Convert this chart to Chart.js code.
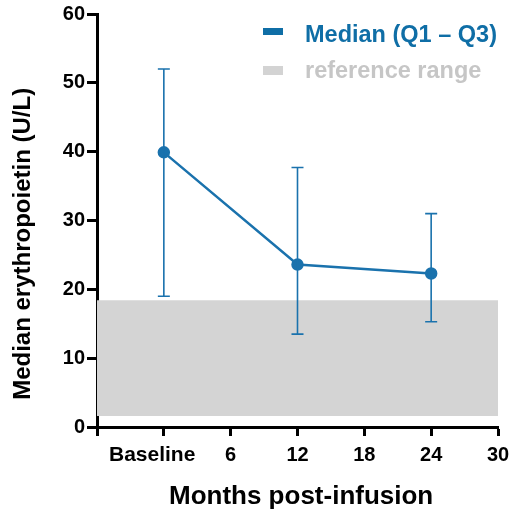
<!DOCTYPE html>
<html>
<head>
<meta charset="utf-8">
<script src="https://cdn.jsdelivr.net/npm/chart.js@4/dist/chart.umd.min.js"></script>
<style>
  body { margin: 0; background: #fff; }
  #wrap { position: relative; width: 511px; height: 513px; }
  .leg { position: absolute; left: 305px; font: bold 23.5px "Liberation Sans", Arial, sans-serif; line-height: 24px; white-space: nowrap; }
  .box { position: absolute; left: 263px; width: 20px; }
</style>
</head>
<body>
<div id="wrap">
  <canvas id="chart" width="511" height="513"></canvas>
  <div class="box" style="top:28px;height:7px;background:#0f6ea6"></div>
  <div class="leg" style="top:22px;color:#0f6ea6">Median (Q1 – Q3)</div>
  <div class="box" style="top:66px;height:9px;background:#d3d3d3"></div>
  <div class="leg" style="top:58px;color:#c6c6c6">reference range</div>
</div>
<script>
const months = [0, 12, 24];
const medians = [39.9, 23.6, 22.3];
const q1 = [19.0, 13.5, 15.3];
const q3 = [52.0, 37.7, 31.0];
const refRange = [1.6, 18.4];
const xTicks = [-6, 0, 6, 12, 18, 24, 30];
const yTicks = [0, 10, 20, 30, 40, 50, 60];

const blue = "#1a72ad";
const font = "'Liberation Sans', Arial, sans-serif";

// whiskers for Q1 - Q3
const errorBars = {
  id: "errorBars",
  afterDatasetsDraw(chart) {
    const { ctx, scales: { x, y } } = chart;
    ctx.save();
    ctx.strokeStyle = blue;
    ctx.lineWidth = 1.6;
    months.forEach((m, i) => {
      const px = x.getPixelForValue(m);
      const top = y.getPixelForValue(q3[i]);
      const bot = y.getPixelForValue(q1[i]);
      ctx.beginPath();
      ctx.moveTo(px, top); ctx.lineTo(px, bot);
      ctx.moveTo(px - 6, top); ctx.lineTo(px + 6, top);
      ctx.moveTo(px - 6, bot); ctx.lineTo(px + 6, bot);
      ctx.stroke();
    });
    ctx.restore();
  }
};

new Chart(document.getElementById("chart"), {
  type: "line",
  data: {
    datasets: [
      {
        data: [{ x: -6, y: refRange[1] }, { x: 30, y: refRange[1] }],
        borderWidth: 0,
        pointRadius: 0,
        backgroundColor: "#d4d4d4",
        fill: { value: refRange[0] },
        order: 2
      },
      {
        data: months.map((m, i) => ({ x: m, y: medians[i] })),
        borderColor: blue,
        backgroundColor: blue,
        borderWidth: 2.5,
        pointRadius: 5,
        pointBackgroundColor: blue,
        fill: false,
        order: 1
      }
    ]
  },
  plugins: [errorBars],
  options: {
    responsive: false,
    animation: false,
    layout: { padding: { top: 14, right: 13 } },
    plugins: { legend: { display: false }, tooltip: { enabled: false } },
    scales: {
      x: {
        type: "linear",
        min: -6,
        max: 30,
        afterBuildTicks: s => { s.ticks = xTicks.map(v => ({ value: v })); },
        afterFit: s => { s.height = 86; s.paddingLeft = 0; s.paddingRight = 0; },
        ticks: {
          color: "#000",
          maxRotation: 0,
          minRotation: 0,
          autoSkip: false,
          font: c => ({ family: font, size: c.tick && c.tick.value === 0 ? 21 : 20, weight: "bold" }),
          padding: 7,
          callback: v => v === 0 ? "Baseline    " : (v < 0 ? "" : v)
        },
        grid: { drawOnChartArea: false, tickLength: 9, tickWidth: 3, tickColor: "#000" },
        border: { color: "#000", width: 3 },
        title: {
          display: true,
          text: " Months post-infusion",
          color: "#000",
          font: { family: font, size: 26, weight: "bold" },
          padding: { top: 0, bottom: 1 }
        }
      },
      y: {
        min: 0,
        max: 60,
        afterBuildTicks: s => { s.ticks = yTicks.map(v => ({ value: v })); },
        afterFit: s => { s.width = 97; },
        ticks: {
          color: "#000",
          font: { family: font, size: 20, weight: "bold" },
          padding: 2
        },
        grid: { drawOnChartArea: false, tickLength: 10, tickWidth: 3, tickColor: "#000" },
        border: { color: "#000", width: 3 },
        title: {
          display: true,
          text: "Median erythropoietin (U/L)       ",
          color: "#000",
          font: { family: font, size: 24, weight: "bold" },
          padding: { top: 9, bottom: 0 }
        }
      }
    }
  }
});
</script>
</body>
</html>
